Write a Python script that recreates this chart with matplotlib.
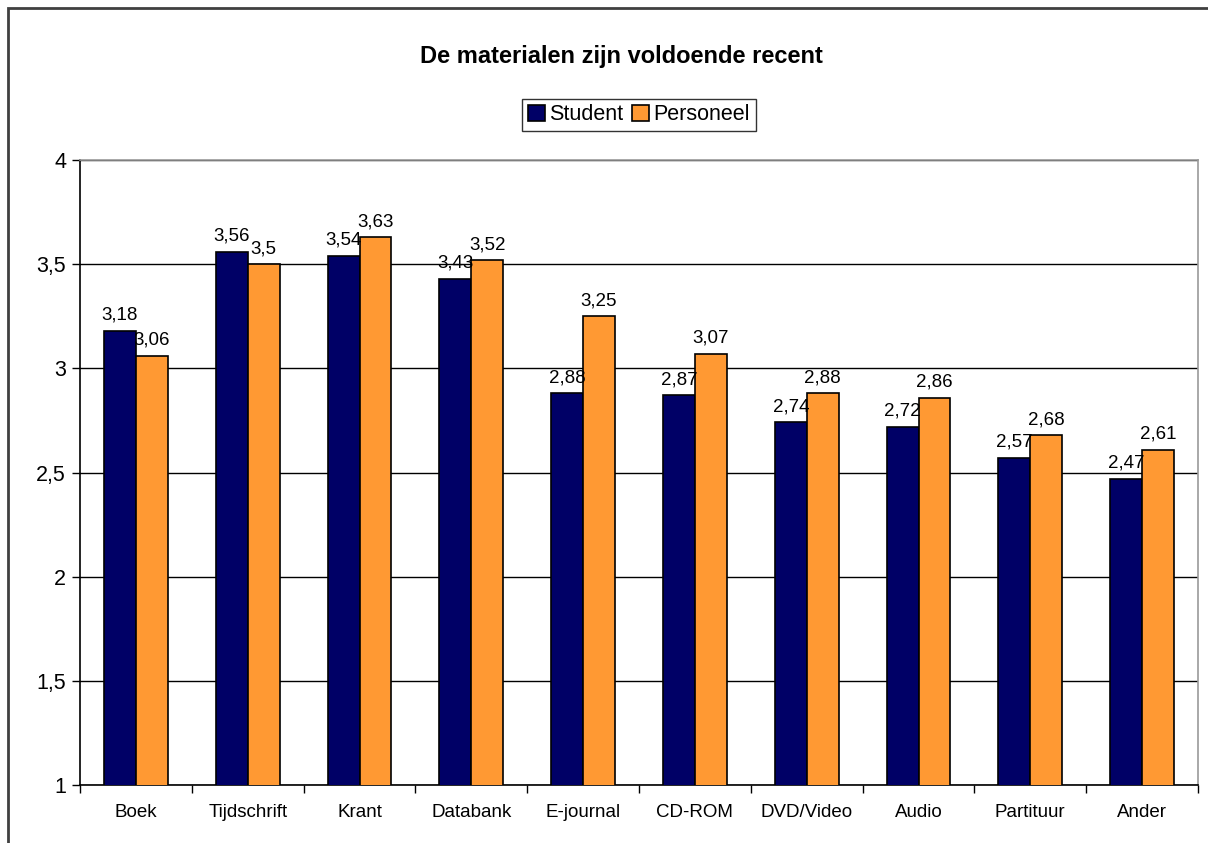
import numpy as np
import matplotlib as mpl
from matplotlib import pyplot as plt
from matplotlib.patches import Rectangle

categories = ["Boek", "Tijdschrift", "Krant", "Databank", "E-journal",
              "CD-ROM", "DVD/Video", "Audio", "Partituur", "Ander"]
student = [3.18, 3.56, 3.54, 3.43, 2.88, 2.87, 2.74, 2.72, 2.57, 2.47]
personeel = [3.06, 3.5, 3.63, 3.52, 3.25, 3.07, 2.88, 2.86, 2.68, 2.61]
y_ticks = [1, 1.5, 2, 2.5, 3, 3.5, 4]

plt.rcParams['font.family'] = ['Liberation Sans', 'DejaVu Sans']

W, H = 1208, 843
fig = plt.figure(figsize=(W / 100, H / 100), dpi=100)
ax = fig.add_axes([80 / W, 1 - 785 / H, (1198 - 80) / W, (785 - 160) / H])

def fmt(v):
	return ("%g" % v).replace('.', ',')

x = np.arange(len(categories))
bw = 0.285
b1 = ax.bar(x - bw / 2, student, bw, bottom=0, color='#000066', edgecolor='black',
	linewidth=1.2, label='Student', zorder=3)
b2 = ax.bar(x + bw / 2, personeel, bw, color='#FF9933', edgecolor='black',
	linewidth=1.2, label='Personeel', zorder=3)

for rects, vals in ((b1, student), (b2, personeel)):
	for r, v in zip(rects, vals):
		ax.annotate(fmt(v), (r.get_x() + r.get_width() / 2, v), xytext=(0, 5),
			textcoords='offset points', ha='center', va='bottom', fontsize=13.5, zorder=4)

ax.set_xlim(-0.5, len(categories) - 0.5)
ax.set_ylim(1, 4)
ax.set_yticks(y_ticks)
ax.set_yticklabels([fmt(v) for v in y_ticks], fontsize=15.5)
ax.yaxis.grid(True, color='black', linewidth=1, zorder=0)
ax.set_axisbelow(True)

ax.set_xticks(x)
ax.set_xticklabels(categories, fontsize=13.5)
ax.tick_params(axis='x', length=0, pad=14)
ax.set_xticks(np.arange(len(categories) + 1) - 0.5, minor=True)
ax.tick_params(axis='x', which='minor', length=6, width=1, direction='out')
ax.tick_params(axis='y', length=6, width=1, direction='out', pad=4)

ax.spines['top'].set_color('#999999')
ax.spines['right'].set_color('#999999')
ax.spines['left'].set_color('black')
ax.spines['bottom'].set_color('black')
for s in ax.spines.values():
	s.set_linewidth(1.2)

fig.text(621 / W, 1 - 56 / H, "De materialen zijn voldoende recent", ha='center',
	va='center', fontsize=17, fontweight='bold')

leg = fig.legend(handles=[b1, b2], loc='center', bbox_to_anchor=(639 / W, 1 - 115 / H),
	ncol=2, fontsize=15.5, frameon=True, fancybox=False, edgecolor='black',
	handlelength=0.8, handleheight=0.8, handletextpad=0.2, columnspacing=0.4,
	borderpad=0.25, borderaxespad=0)
leg.get_frame().set_linewidth(1)

# outer chart border
fig.patches.append(Rectangle((8 / W, -0.1), 1.2, 1.1 - 8 / H, transform=fig.transFigure,
	fill=False, edgecolor='#404040', linewidth=2))

fig.savefig('out.png', dpi=100)
